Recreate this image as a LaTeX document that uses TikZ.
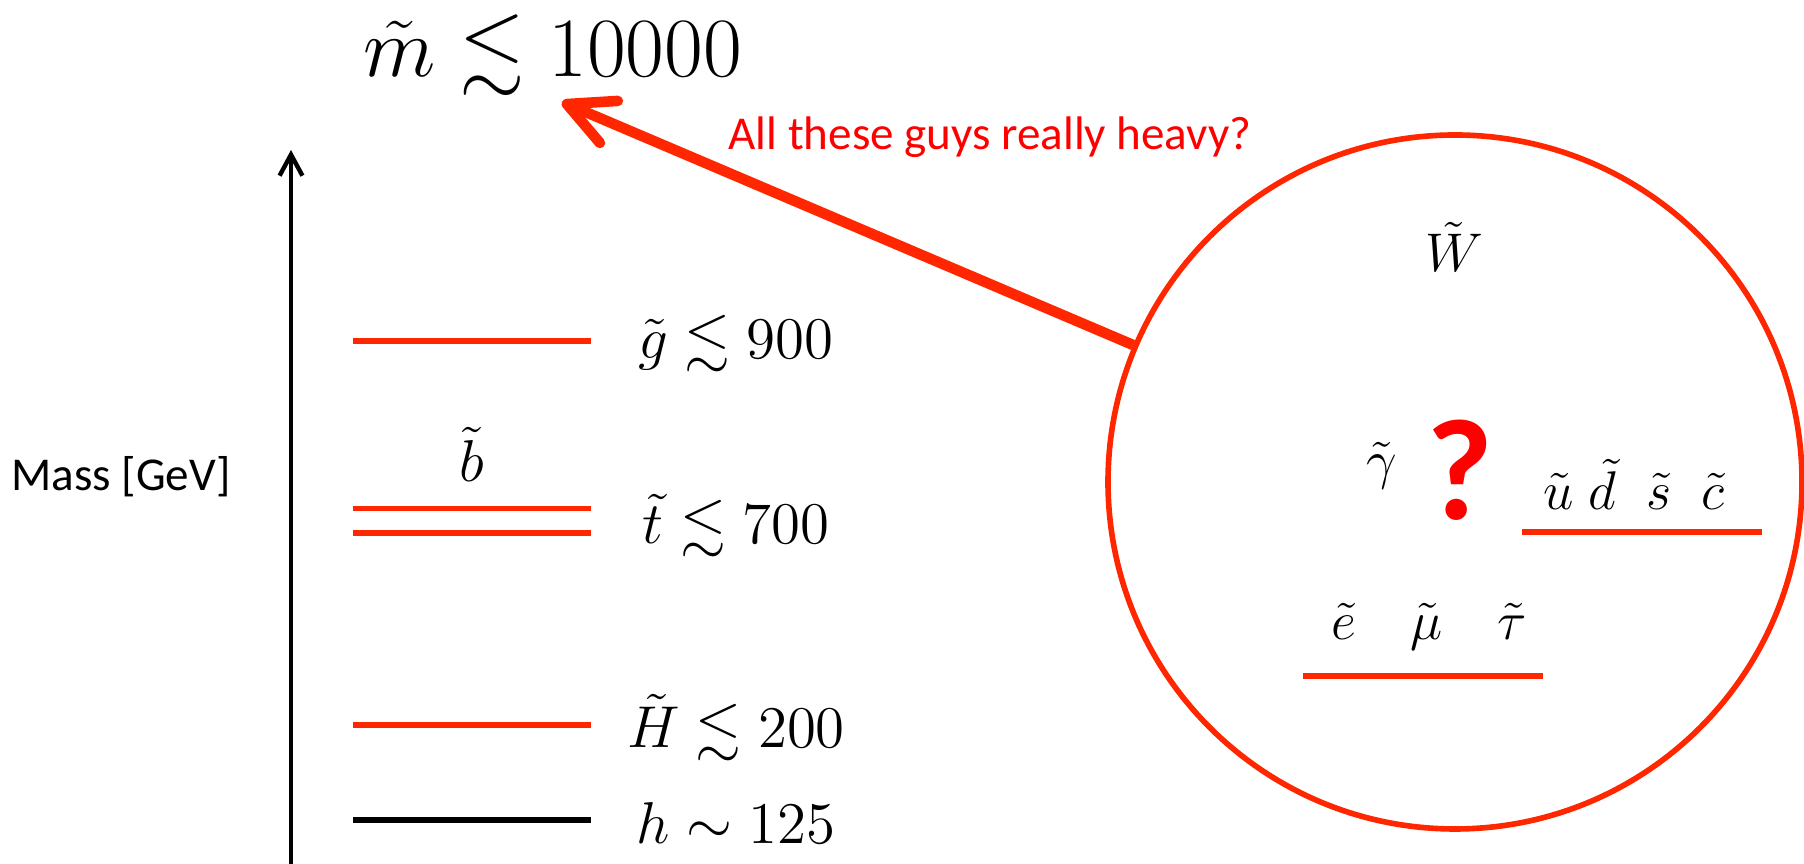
\documentclass[tikz,border=0pt]{standalone}
\usepackage{fix-cm}
\usepackage{amssymb}
\usepackage{fontspec}
\newfontfamily\calibri{Carlito}
\usetikzlibrary{arrows.meta}
\definecolor{lvlred}{RGB}{255,38,0}

\begin{document}
\begin{tikzpicture}[
        level/.style={lvlred, line width=1.45pt},
        masslabel/.style={anchor=base, font=\fontsize{16.8}{20}\selectfont},
        sparticle/.style={anchor=base, font=\fontsize{15.5}{19}\selectfont},
        remark/.style={anchor=base, red, font=\calibri\fontsize{13.4}{16}\selectfont},
    ]
        \useasboundingbox (0, 0) rectangle (18.04, 8.64);

        % mass axis
        \coordinate (axisbottom) at (2.91, 0);
        \coordinate (axistop) at (2.91, 7.14);
        \draw[line width=1.25pt, -{Straight Barb[length=6pt, width=6.5pt]}] (axisbottom) -- (axistop);
        \node (axislabel) at (1.21, 3.73) [remark, black] {Mass [GeV]};

        % light spectrum
        \draw[level] (3.53, 5.23) -- (5.91, 5.23);
        \draw[level] (3.53, 3.555) -- (5.91, 3.555);
        \draw[level] (3.53, 3.31) -- (5.91, 3.31);
        \draw[level] (3.53, 1.39) -- (5.91, 1.39);
        \draw[line width=1.45pt] (3.53, 0.44) -- (5.91, 0.44);
        \node (gluino) at (7.36, 5.05) [masslabel] {$\tilde{g} \lesssim 900$};
        \node (sbottom) at (4.72, 3.82) [masslabel] {$\tilde{b}$};
        \node (stop) at (7.36, 3.20) [masslabel] {$\tilde{t} \lesssim 700$};
        \node (higgsino) at (7.36, 1.16) [masslabel] {$\tilde{H} \lesssim 200$};
        \node (higgs) at (7.36, 0.20) [masslabel] {$h \sim 125$};

        \node (bound) at (5.53, 7.87) [anchor=base, font=\fontsize{24}{28}\selectfont] {$\tilde{m} \lesssim 10000$};

        % the heavy ones
        \node (heavy) at (14.55, 3.82) [circle, draw=lvlred, line width=1.6pt, minimum size=6.94cm] {};
        \node (wino) at (14.54, 5.92) [sparticle] {$\tilde{W}$};
        \node (photino) at (13.82, 3.98) [sparticle, anchor=center] {$\tilde{\gamma}$};
        \node (unknown) at (14.60, 3.94) [red, font=\calibri\bfseries\fontsize{41}{45}\selectfont] {?};
        \node (squarks) at (16.34, 3.54) [sparticle] {$\tilde{u}\;\tilde{d}\;\;\tilde{s}\;\;\tilde{c}$};
        \draw[level] (15.22, 3.32) -- (17.62, 3.32);
        \node (sleptons) at (14.29, 2.24) [sparticle] {$\tilde{e}\quad\tilde{\mu}\quad\tilde{\tau}$};
        \draw[level] (13.03, 1.88) -- (15.43, 1.88);

        \coordinate (tip) at (5.62, 7.62);
        \draw[lvlred, line width=3pt, -{Straight Barb[length=13pt, width=13pt, round]}] (heavy) -- (tip);
        \node (question) at (9.90, 7.14) [remark] {All these guys really heavy?};
    \end{tikzpicture}
\end{document}
